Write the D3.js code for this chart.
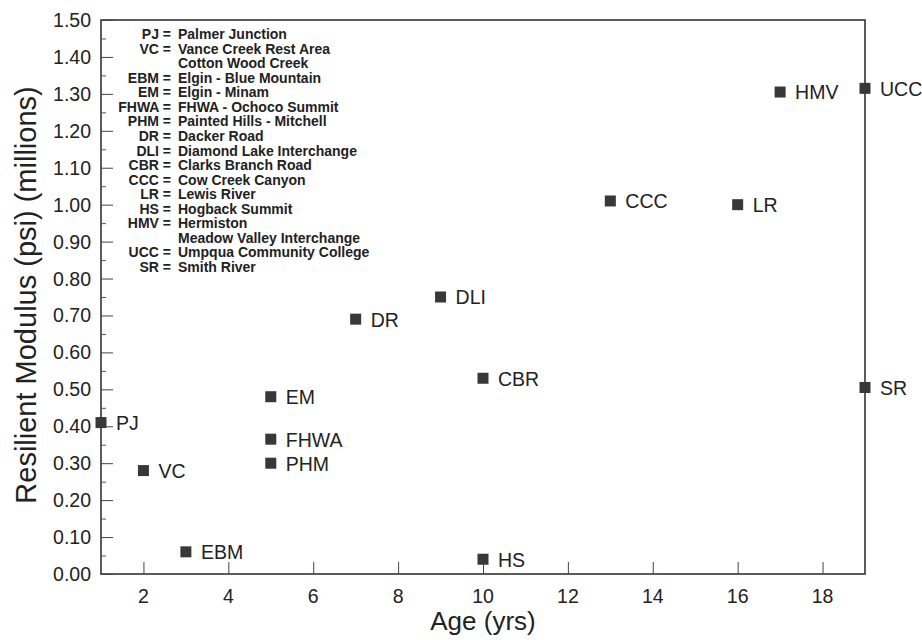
<!DOCTYPE html>
<html>
<head>
<meta charset="utf-8">
<script src="https://cdn.jsdelivr.net/npm/d3@7"></script>
<style>
  body { margin: 0; background: #fff; }
  text { font-family: "Liberation Sans", Arial, Helvetica, sans-serif; fill: #222; }
</style>
</head>
<body>
<div id="vis"></div>
<script>
    // site codes, age (yrs) and resilient modulus (millions psi)
    var sites = ["PJ", "VC", "EBM", "EM", "FHWA", "PHM", "DR", "DLI", "CBR", "HS", "CCC", "LR", "HMV", "UCC", "SR"];
    var ages = [1, 2, 3, 5, 5, 5, 7, 9, 10, 10, 13, 16, 17, 19, 19];
    var modulus = [0.41, 0.28, 0.06, 0.48, 0.365, 0.30, 0.69, 0.75, 0.53, 0.04, 1.01, 1.00, 1.305, 1.315, 0.505];

    var legendAbbr = ["PJ", "VC", "", "EBM", "EM", "FHWA", "PHM", "DR", "DLI", "CBR", "CCC", "LR", "HS", "HMV", "", "UCC", "SR"];
    var legendName = ["Palmer Junction", "Vance Creek Rest Area", "Cotton Wood Creek", "Elgin - Blue Mountain",
        "Elgin - Minam", "FHWA - Ochoco Summit", "Painted Hills - Mitchell", "Dacker Road",
        "Diamond Lake Interchange", "Clarks Branch Road", "Cow Creek Canyon", "Lewis River",
        "Hogback Summit", "Hermiston", "Meadow Valley Interchange", "Umpqua Community College", "Smith River"];

    var xTicks = [2, 4, 6, 8, 10, 12, 14, 16, 18];
    var yTicks = d3.range(0, 16).map(function (i) { return i / 10; });
    var yMinorTicks = d3.range(0, 15).map(function (i) { return i / 10 + 0.05; });

    const WIDTH = 922;
    const HEIGHT = 640;
    const LEFT = 101;
    const RIGHT = 865;
    const TOP = 20;
    const BOTTOM = 574;
    const MARK = 11;

    var x = d3.scaleLinear().domain([1, 19]).range([LEFT, RIGHT]);
    var y = d3.scaleLinear().domain([0, 1.5]).range([BOTTOM, TOP]);

    var svg = d3.select("#vis").append("svg")
        .attr("width", WIDTH)
        .attr("height", HEIGHT);

    // frame
    svg.append("rect")
        .attr("x", LEFT).attr("y", TOP)
        .attr("width", RIGHT - LEFT).attr("height", BOTTOM - TOP)
        .attr("fill", "none").attr("stroke", "#333").attr("stroke-width", 1.6);

    // y axis, ticks pointing inward
    var yAxis = svg.append("g").attr("transform", "translate(" + LEFT + ",0)")
        .call(d3.axisRight(y).tickValues(yTicks).tickSize(12).tickFormat(""));
    yAxis.select(".domain").remove();
    yAxis.selectAll("line").attr("stroke", "#444");
    svg.append("g").attr("transform", "translate(" + LEFT + ",0)")
        .call(d3.axisRight(y).tickValues(yMinorTicks).tickSize(5).tickFormat(""))
        .call(function (g) { g.select(".domain").remove(); g.selectAll("line").attr("stroke", "#555"); });
    svg.append("g").selectAll("text")
        .data(yTicks)
        .enter()
        .append("text")
        .attr("x", LEFT - 10)
        .attr("y", function (d) { return y(d); })
        .attr("dy", "0.36em")
        .attr("text-anchor", "end")
        .attr("font-size", "19.5px")
        .text(d3.format(".2f"));

    // x axis, ticks pointing up
    var xAxis = svg.append("g").attr("transform", "translate(0," + BOTTOM + ")")
        .call(d3.axisTop(x).tickValues(xTicks).tickSize(12).tickFormat(""));
    xAxis.select(".domain").remove();
    xAxis.selectAll("line").attr("stroke", "#444");
    svg.append("g").selectAll("text")
        .data(xTicks)
        .enter()
        .append("text")
        .attr("x", function (d) { return x(d); })
        .attr("y", BOTTOM + 22)
        .attr("dy", "0.36em")
        .attr("text-anchor", "middle")
        .attr("font-size", "19.5px")
        .text(function (d) { return d; });

    // axis titles
    svg.append("text")
        .attr("x", (LEFT + RIGHT) / 2)
        .attr("y", 621)
        .attr("dy", "0.36em")
        .attr("text-anchor", "middle")
        .attr("font-size", "26px")
        .text("Age (yrs)");
    svg.append("text")
        .attr("transform", "translate(26,295) rotate(-90)")
        .attr("dy", "0.36em")
        .attr("text-anchor", "middle")
        .attr("font-size", "29px")
        .text("Resilient Modulus (psi) (millions)");

    // legend of site codes
    var legend = svg.append("g").selectAll("g")
        .data(legendName)
        .enter()
        .append("g")
        .attr("transform", function (d, i) { return "translate(0," + (34 + i * 14.56) + ")"; });
    legend.append("text")
        .attr("x", 171)
        .attr("dy", "0.36em")
        .attr("text-anchor", "end")
        .attr("font-size", "14px")
        .attr("font-weight", "bold")
        .attr("fill", "#333")
        .text(function (d, i) { return legendAbbr[i] ? legendAbbr[i] + " =" : ""; });
    legend.append("text")
        .attr("x", 178)
        .attr("dy", "0.36em")
        .attr("font-size", "14px")
        .attr("font-weight", "bold")
        .attr("fill", "#333")
        .text(function (d) { return d; });

    // points
    var pts = svg.append("g").selectAll("g")
        .data(sites)
        .enter()
        .append("g")
        .attr("transform", function (d, i) { return "translate(" + x(ages[i]) + "," + y(modulus[i]) + ")"; });
    pts.append("rect")
        .attr("x", -MARK / 2).attr("y", -MARK / 2)
        .attr("width", MARK).attr("height", MARK)
        .attr("fill", "#383838");
    pts.append("text")
        .attr("x", 15)
        .attr("dy", "0.38em")
        .attr("font-size", "19.5px")
        .text(function (d) { return d; });
</script>
</body>
</html>
